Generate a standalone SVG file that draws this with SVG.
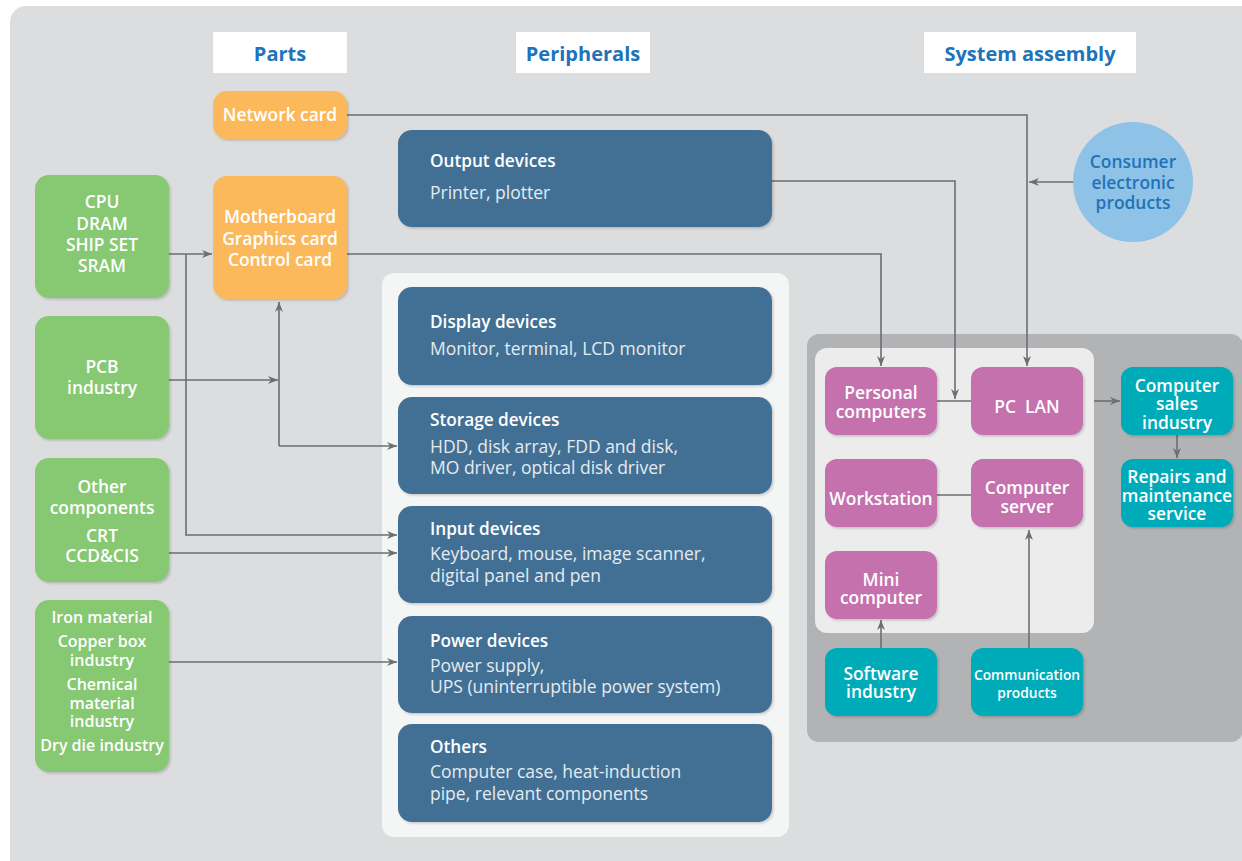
<svg xmlns="http://www.w3.org/2000/svg" width="1242" height="861" viewBox="0 0 1242 861">
  <defs>
    <filter id="sh" x="-10%" y="-10%" width="125%" height="125%">
      <feDropShadow dx="1.5" dy="1.5" stdDeviation="0.8" flood-color="#000" flood-opacity="0.18"/>
    </filter>
    <marker id="arr" viewBox="0 0 10 8" refX="10" refY="4" markerWidth="10" markerHeight="8" markerUnits="userSpaceOnUse" orient="auto">
      <path d="M0,0 L10,4 L0,8 L3,4 z" fill="#6d6e71"/>
    </marker>
    <style>
      text { font-family: "Open Sans", "Noto Sans", "Liberation Sans", sans-serif; }
      .hdr { fill: #ffffff; }
      .hdrt { fill: #2173b9; font-size: 20px; font-weight: 700; text-anchor: middle; }
      .lbl { fill: #ffffff; font-size: 17.4px; font-weight: 600; text-anchor: middle; }
      .sm { font-size: 16px; }
      .green { fill: #87c873; filter: url(#sh); }
      .orange { fill: #fcb95b; filter: url(#sh); }
      .blue { fill: #436f95; filter: url(#sh); }
      .pink { fill: #c471ad; filter: url(#sh); }
      .teal { fill: #00abb9; filter: url(#sh); }
      .ttl { fill: #ffffff; font-size: 17.2px; font-weight: 600; }
      .sub { fill: #e4ebf1; font-size: 17.5px; font-weight: 400; }
      .conn path { fill: none; stroke: #6d6e71; stroke-width: 1.6; }
      .conn .a { marker-end: url(#arr); }
    </style>
  </defs>

  <!-- background panels -->
  <rect x="0" y="0" width="1242" height="861" fill="#ffffff"/>
  <rect x="10" y="6" width="1260" height="870" rx="16" fill="#dcdddf"/>
  <rect x="382" y="273" width="407" height="564" rx="12" fill="#f4f5f5"/>
  <rect x="807" y="334" width="436" height="408" rx="12" fill="#b2b3b5"/>
  <rect x="815" y="348" width="279" height="285" rx="12" fill="#ececec"/>

  <!-- column headers -->
  <g id="hdr-parts">
    <rect class="hdr" x="213" y="32" width="134" height="41"/>
    <text class="hdrt" x="280" y="61">Parts</text>
  </g>
  <g id="hdr-peripherals">
    <rect class="hdr" x="516" y="32" width="134" height="41"/>
    <text class="hdrt" x="583" y="61">Peripherals</text>
  </g>
  <g id="hdr-system">
    <rect class="hdr" x="924" y="32" width="212" height="41"/>
    <text class="hdrt" x="1030" y="61">System assembly</text>
  </g>

  <!-- connectors -->
  <g id="connectors" class="conn">
    <path class="a" d="M347,115 H1027 V366"/>
    <path class="a" d="M1073,182 H1029"/>
    <path class="a" d="M772,181 H955 V399"/>
    <path class="a" d="M347,254 H881 V366"/>
    <path d="M937,401 H971"/>
    <path class="a" d="M1094,401 H1120"/>
    <path class="a" d="M1177,435 V458"/>
    <path d="M937,495 H971"/>
    <path class="a" d="M881,648 V620"/>
    <path class="a" d="M1029,648 V530"/>
    <path class="a" d="M169,254 H212"/>
    <path class="a" d="M186,254 V535 H397"/>
    <path class="a" d="M169,380 H278"/>
    <path class="a" d="M279,446 V302"/>
    <path class="a" d="M279,446 H397"/>
    <path class="a" d="M169,553 H397"/>
    <path class="a" d="M169,662 H397"/>
  </g>

  <!-- raw materials and components -->
  <g id="n-cpu">
    <rect class="green" x="35" y="175" width="134" height="123" rx="14"/>
    <text class="lbl" x="102" y="208">CPU</text>
    <text class="lbl" x="102" y="230">DRAM</text>
    <text class="lbl" x="102" y="251">SHIP SET</text>
    <text class="lbl" x="102" y="272">SRAM</text>
  </g>
  <g id="n-pcb">
    <rect class="green" x="35" y="316" width="134" height="123" rx="14"/>
    <text class="lbl" x="102" y="373">PCB</text>
    <text class="lbl" x="102" y="394">industry</text>
  </g>
  <g id="n-other">
    <rect class="green" x="35" y="458" width="134" height="124" rx="14"/>
    <text class="lbl" x="102" y="493">Other</text>
    <text class="lbl" x="102" y="514">components</text>
    <text class="lbl" x="102" y="542">CRT</text>
    <text class="lbl" x="102" y="562">CCD&amp;CIS</text>
  </g>
  <g id="n-materials">
    <rect class="green" x="35" y="600" width="134" height="172" rx="14"/>
    <text class="lbl sm" x="102" y="623">Iron material</text>
    <text class="lbl sm" x="102" y="647">Copper box</text>
    <text class="lbl sm" x="102" y="666">industry</text>
    <text class="lbl sm" x="102" y="690">Chemical</text>
    <text class="lbl sm" x="102" y="709">material</text>
    <text class="lbl sm" x="102" y="727">industry</text>
    <text class="lbl sm" x="102" y="751">Dry die industry</text>
  </g>

  <!-- parts -->
  <g id="n-network">
    <rect class="orange" x="213" y="91" width="134" height="48" rx="14"/>
    <text class="lbl" x="280" y="121">Network card</text>
  </g>
  <g id="n-motherboard">
    <rect class="orange" x="213" y="176" width="134" height="123" rx="14"/>
    <text class="lbl" x="280" y="223">Motherboard</text>
    <text class="lbl" x="280" y="245">Graphics card</text>
    <text class="lbl" x="280" y="266">Control card</text>
  </g>

  <!-- peripherals -->
  <g id="n-output">
    <rect class="blue" x="398" y="130" width="374" height="97" rx="14"/>
    <text class="ttl" x="430" y="167">Output devices</text>
    <text class="sub" x="430" y="199">Printer, plotter</text>
  </g>
  <g id="n-display">
    <rect class="blue" x="398" y="287" width="374" height="98" rx="14"/>
    <text class="ttl" x="430" y="328">Display devices</text>
    <text class="sub" x="430" y="355">Monitor, terminal, LCD monitor</text>
  </g>
  <g id="n-storage">
    <rect class="blue" x="398" y="397" width="374" height="97" rx="14"/>
    <text class="ttl" x="430" y="426">Storage devices</text>
    <text class="sub" x="430" y="453">HDD, disk array, FDD and disk,</text>
    <text class="sub" x="430" y="474">MO driver, optical disk driver</text>
  </g>
  <g id="n-input">
    <rect class="blue" x="398" y="506" width="374" height="97" rx="14"/>
    <text class="ttl" x="430" y="535">Input devices</text>
    <text class="sub" x="430" y="560">Keyboard, mouse, image scanner,</text>
    <text class="sub" x="430" y="582">digital panel and pen</text>
  </g>
  <g id="n-power">
    <rect class="blue" x="398" y="616" width="374" height="97" rx="14"/>
    <text class="ttl" x="430" y="647">Power devices</text>
    <text class="sub" x="430" y="672">Power supply,</text>
    <text class="sub" x="430" y="693">UPS (uninterruptible power system)</text>
  </g>
  <g id="n-others">
    <rect class="blue" x="398" y="724" width="374" height="98" rx="14"/>
    <text class="ttl" x="430" y="753">Others</text>
    <text class="sub" x="430" y="778">Computer case, heat-induction</text>
    <text class="sub" x="430" y="800">pipe, relevant components</text>
  </g>

  <!-- system assembly -->
  <g id="n-consumer">
    <circle cx="1133" cy="182" r="60" fill="#8ec2e7"/>
    <text class="lbl" x="1133" y="168" style="fill:#2173b9">Consumer</text>
    <text class="lbl" x="1133" y="189" style="fill:#2173b9">electronic</text>
    <text class="lbl" x="1133" y="209" style="fill:#2173b9">products</text>
  </g>
  <g id="n-pc">
    <rect class="pink" x="825" y="367" width="112" height="68" rx="12"/>
    <text class="lbl" x="881" y="399">Personal</text>
    <text class="lbl" x="881" y="418">computers</text>
  </g>
  <g id="n-pclan">
    <rect class="pink" x="971" y="367" width="112" height="68" rx="12"/>
    <text class="lbl" x="1027" y="413" style="white-space:pre">PC  LAN</text>
  </g>
  <g id="n-workstation">
    <rect class="pink" x="825" y="459" width="112" height="68" rx="12"/>
    <text class="lbl" x="881" y="505">Workstation</text>
  </g>
  <g id="n-server">
    <rect class="pink" x="971" y="459" width="112" height="68" rx="12"/>
    <text class="lbl" x="1027" y="494">Computer</text>
    <text class="lbl" x="1027" y="513">server</text>
  </g>
  <g id="n-mini">
    <rect class="pink" x="825" y="551" width="112" height="68" rx="12"/>
    <text class="lbl" x="881" y="586">Mini</text>
    <text class="lbl" x="881" y="604">computer</text>
  </g>
  <g id="n-software">
    <rect class="teal" x="825" y="648" width="112" height="68" rx="12"/>
    <text class="lbl" x="881" y="680">Software</text>
    <text class="lbl" x="881" y="698">industry</text>
  </g>
  <g id="n-comm">
    <rect class="teal" x="971" y="648" width="112" height="68" rx="12"/>
    <text class="lbl" x="1027" y="680" style="font-size:13.8px">Communication</text>
    <text class="lbl" x="1027" y="698" style="font-size:13.8px">products</text>
  </g>
  <g id="n-sales">
    <rect class="teal" x="1121" y="367" width="112" height="68" rx="12"/>
    <text class="lbl" x="1177" y="392">Computer</text>
    <text class="lbl" x="1177" y="410">sales</text>
    <text class="lbl" x="1177" y="429">industry</text>
  </g>
  <g id="n-repairs">
    <rect class="teal" x="1121" y="459" width="112" height="68" rx="12"/>
    <text class="lbl" x="1177" y="483">Repairs and</text>
    <text class="lbl" x="1177" y="502">maintenance</text>
    <text class="lbl" x="1177" y="520">service</text>
  </g>
</svg>
